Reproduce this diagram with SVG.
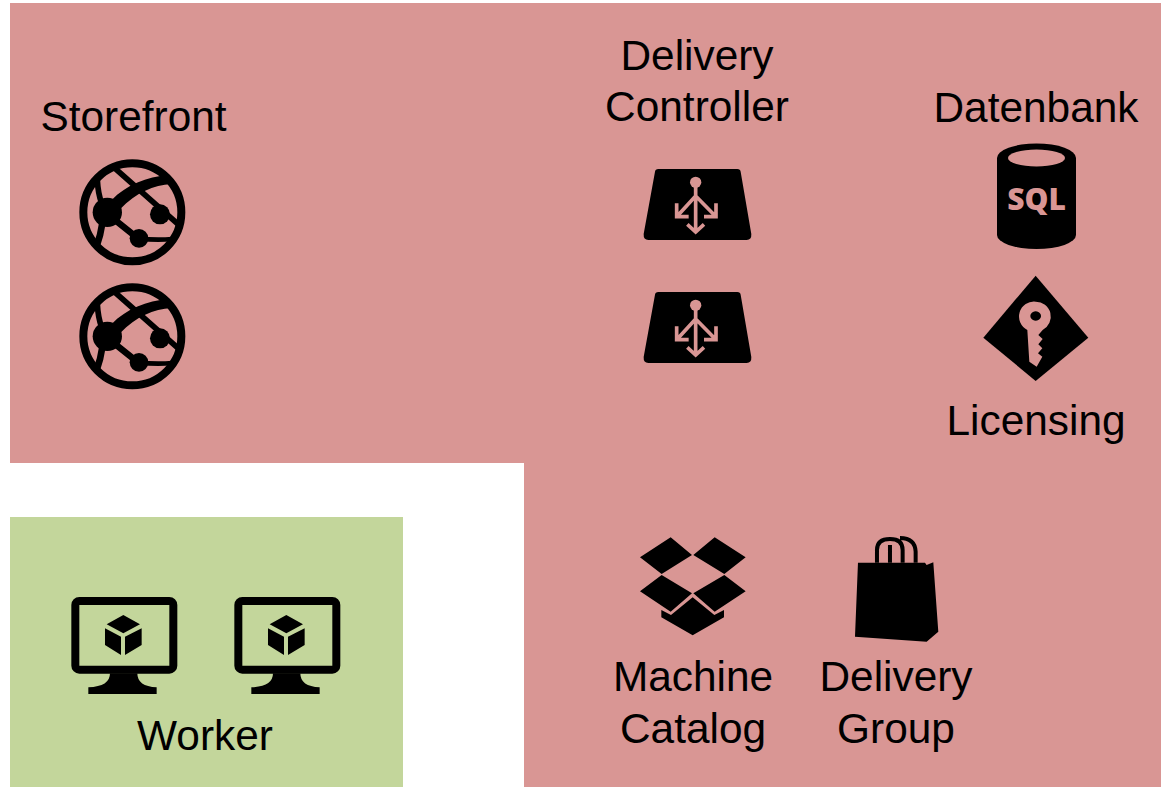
<svg xmlns="http://www.w3.org/2000/svg" width="1161" height="787" viewBox="0 0 1161 787">
<style>
text{font-family:"Liberation Sans",Arial,sans-serif;font-size:42.400px;fill:#000;text-anchor:middle}
.p{fill:#D99694}.ps{fill:none;stroke:#D99694;stroke-width:11}
.b{fill:none;stroke:#000}
</style>
<defs>
<g id="globe">
<circle class="b" cx="187" cy="187" r="147" stroke-width="24"/>
<circle cx="112" cy="187" r="44"/>
<circle cx="270" cy="193" r="30"/>
<circle cx="207" cy="265" r="28"/>
<path d="M125 150C170 105 230 80 295 76L305 102C250 106 200 126 150 178Z"/>
<path class="b" stroke-width="17" d="M135 55L330 228M82 90Q84 130 95 160"/>
<path class="b" stroke-width="20" d="M97 220Q92 255 80 288M135 210L195 258"/>
<path class="b" stroke-width="14" d="M207 265Q255 272 308 267"/>
</g>
<g id="ctrl">
<path d="M75 35Q76 27 85 27L322 27Q331 27 332 35L364 222Q365 240 350 240L55 240Q40 240 41 222Z"/>
<circle class="p" cx="197" cy="67" r="17"/>
<path class="ps" d="M197 80V212M172 193L197 216L222 193M197 108L142 168M197 108L256 168M140 130V170H176M258 130V170H222"/>
</g>
<g id="monitor">
<rect class="b" x="46" y="33" width="294" height="206" rx="12" stroke-width="24"/>
<path d="M150 250Q150 290 85 292V312H290V292Q232 290 232 250Z"/>
<path d="M190 75L240 103L190 130L140 103ZM135 115L183 140V195L135 165ZM245 115L195 140V195L245 165Z"/>
</g>
</defs>
<rect width="1161" height="787" fill="#fff"/>
<path id="server-area" class="p" d="M10 3H1161V787H524V463H10Z"/>
<rect id="worker-area" x="10" y="517" width="393" height="270" fill="#C3D69B"/>
<g id="connectors"/>
<g id="storefront">
<text x="133.500" y="131">Storefront</text>
<use href="#globe" transform="translate(70 150) scale(.3333)"/>
<use href="#globe" transform="translate(70 274) scale(.3333)"/>
</g>
<g id="delivery-controller">
<text x="697" y="70">Delivery</text>
<text x="697" y="121">Controller</text>
<use href="#ctrl" transform="translate(630 160) scale(.3333)"/>
<use href="#ctrl" transform="translate(630 283) scale(.3333)"/>
</g>
<g id="datenbank">
<text x="1036" y="122">Datenbank</text>
<path d="M997 158A39.500 14.500 0 0 1 1076 158V235A39.500 14 0 0 1 997 235Z"/>
<ellipse class="p" cx="1036.500" cy="158" rx="28.500" ry="8.500"/>
<text x="1036.500" y="210" style="font-family:'Open Sans',sans-serif;font-weight:800;font-size:30px;fill:#D99694">SQL</text>
</g>
<g id="licensing">
<g transform="translate(970 135) scale(.3333)">
<path d="M197 422L355 608L197 738L40 608Z"/>
<path class="p" fill-rule="evenodd" d="M197 500A45 45 0 0 1 218 585L205 600L218 612L205 628L217 640L204 655L217 665L200 695L178 680L172 585A45 45 0 0 1 197 500ZM197 529A16 14 0 1 0 197.100 529Z"/>
</g>
<text x="1036" y="435">Licensing</text>
</g>
<g id="machine-catalog">
<path transform="translate(630 530) scale(.3333)" d="M122 22L186 75L95 132L30 82ZM254 22L347 82L283 132L190 75ZM95 135L186 190L122 245L30 184ZM283 135L347 184L254 245L190 190ZM188 202L253 255L282 240V262L188 316L94 262V240L123 255Z"/>
<text x="693" y="691">Machine</text>
<text x="693" y="743">Catalog</text>
</g>
<g id="delivery-group">
<g transform="translate(630 530) scale(.3333)">
<path d="M684 98H885L890 105L910 97L925 305L890 335L675 320Z"/>
<path class="b" stroke-width="12" d="M741 98V60Q741 27 780 27Q818 27 818 60V98M810 24Q855 24 857 65V98M780 98V45"/>
</g>
<text x="896" y="691">Delivery</text>
<text x="896" y="743">Group</text>
</g>
<g id="worker">
<use href="#monitor" transform="translate(60 590) scale(.3333)"/>
<use href="#monitor" transform="translate(223 590) scale(.3333)"/>
<text x="205" y="750">Worker</text>
</g>
</svg>
